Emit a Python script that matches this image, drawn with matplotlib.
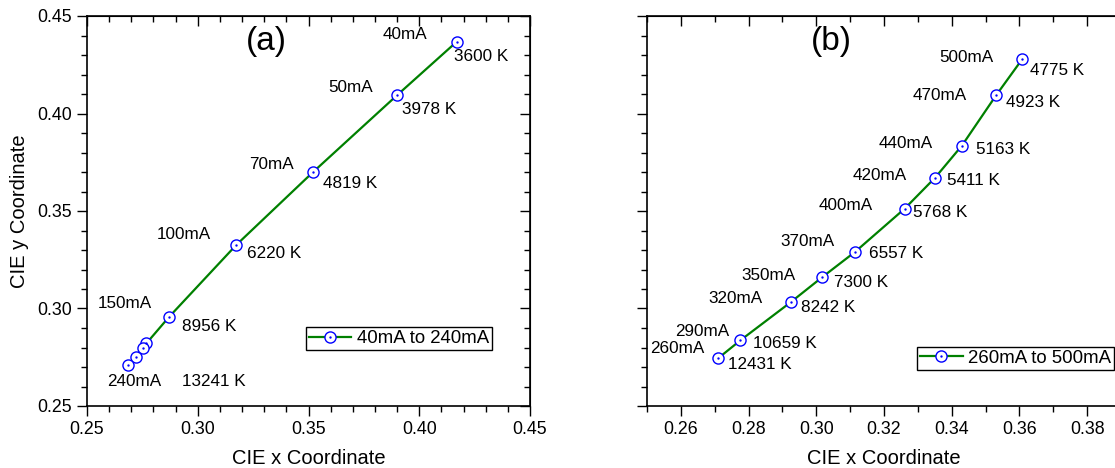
import matplotlib.pyplot as plt
from matplotlib.ticker import MultipleLocator

plt.rcParams['font.family'] = ['Liberation Sans', 'DejaVu Sans']

# Panel (a): 40mA to 240mA
cur_a = ["40mA", "50mA", "70mA", "100mA", "150mA", "", "", "", "240mA"]
cct_a = ["3600 K", "3978 K", "4819 K", "6220 K", "8956 K", "", "", "", "13241 K"]
x_a = [0.4169, 0.3901, 0.3519, 0.3174, 0.2869, 0.2768, 0.2754, 0.2720, 0.2685]
y_a = [0.4368, 0.4095, 0.3698, 0.3326, 0.2955, 0.2821, 0.2797, 0.2753, 0.2709]

# Panel (b): 260mA to 500mA
cur_b = ["260mA", "290mA", "320mA", "350mA", "370mA", "400mA", "420mA", "440mA", "470mA", "500mA"]
cct_b = ["12431 K", "10659 K", "8242 K", "7300 K", "6557 K", "5768 K", "5411 K", "5163 K", "4923 K", "4775 K"]
x_b = [0.2711, 0.2776, 0.2925, 0.3017, 0.3115, 0.3261, 0.3351, 0.3430, 0.3531, 0.3608]
y_b = [0.2746, 0.2837, 0.3033, 0.3160, 0.3291, 0.3512, 0.3671, 0.3835, 0.4093, 0.4278]

# label offsets in pixels (dx, dy)
off_cur_a = [(-29, 7), (-24, 7), (-19, 8), (-25, 10), (-17, 14), None, None, None, (33, -16)]
off_cct_a = [(-3, -15), (5, -15), (10, -11), (11, -9), (13, -9), None, None, None, (54, -16)]
off_cur_b = [(-14, 10), (-11, 9), (-28, 4), (-27, 2), (-21, 10), (-32, 3), (-28, 2), (-29, 2), (-29, 0), (-29, 2)]
off_cct_b = [(10, -6), (13, -3), (10, -5), (12, -5), (14, -2), (8, -4), (12, -3), (14, -4), (10, -7), (8, -11)]

fig = plt.figure(figsize=(11.15, 4.68), dpi=100)
ax1 = fig.add_axes([87 / 1115, 62 / 468, 443 / 1115, 390 / 468])
ax2 = fig.add_axes([647 / 1115, 62 / 468, 474 / 1115, 390 / 468])


def draw(ax, xs, ys, curs, ccts, off_c, off_k):
    line, = ax.plot(xs, ys, color="#008000", lw=1.6, marker="o", ms=8,
                    mfc="white", mec="blue", mew=1.0, zorder=3)
    dots, = ax.plot(xs, ys, ls="none", marker="o", ms=0.7, color="blue", zorder=4)
    for i in range(len(xs)):
        if off_c[i] is not None:
            ax.annotate(curs[i], (xs[i], ys[i]), xytext=off_c[i], textcoords="offset pixels",
                        ha="right", va="center", fontsize=12.3)
        if off_k[i] is not None:
            ax.annotate(ccts[i], (xs[i], ys[i]), xytext=off_k[i], textcoords="offset pixels",
                        ha="left", va="center", fontsize=12.3)
    return (line, dots)


h1 = draw(ax1, x_a, y_a, cur_a, cct_a, off_cur_a, off_cct_a)
h2 = draw(ax2, x_b, y_b, cur_b, cct_b, off_cur_b, off_cct_b)

ax1.set_xlim(0.25, 0.45)
ax1.set_ylim(0.25, 0.45)
ax2.set_xlim(0.25, 0.39)
ax2.set_ylim(0.25, 0.45)

ax1.xaxis.set_major_locator(MultipleLocator(0.05))
ax1.xaxis.set_minor_locator(MultipleLocator(0.01))
ax2.xaxis.set_major_locator(MultipleLocator(0.02))
ax2.xaxis.set_minor_locator(MultipleLocator(0.01))

for ax in (ax1, ax2):
    ax.yaxis.set_major_locator(MultipleLocator(0.05))
    ax.yaxis.set_minor_locator(MultipleLocator(0.01))
    ax.tick_params(which="both", direction="out", top=False, right=False, width=1.0)
    ax.tick_params(which="major", length=7, labelsize=12.8, pad=4)
    ax.tick_params(which="minor", length=4)
    for s in ax.spines.values():
        s.set_linewidth(1.2)
    ax.set_xlabel("CIE x Coordinate", fontsize=14.5, labelpad=8)
    ax.xaxis.set_major_formatter(plt.FormatStrFormatter("%.2f"))
    # inward ticks on the top axis
    sec_top = ax.secondary_xaxis("top")
    sec_top.xaxis.set_major_locator(ax.xaxis.get_major_locator())
    sec_top.xaxis.set_minor_locator(ax.xaxis.get_minor_locator())
    sec_top.tick_params(which="both", direction="in", labeltop=False, width=1.0)
    sec_top.tick_params(which="major", length=7)
    sec_top.tick_params(which="minor", length=4)

# inward ticks on the right side of panel (a)
sec_r = ax1.secondary_yaxis("right")
sec_r.yaxis.set_major_locator(MultipleLocator(0.05))
sec_r.yaxis.set_minor_locator(MultipleLocator(0.01))
sec_r.tick_params(which="both", direction="in", labelright=False, width=1.0)
sec_r.tick_params(which="major", length=7)
sec_r.tick_params(which="minor", length=4)

ax1.yaxis.set_major_formatter(plt.FormatStrFormatter("%.2f"))
ax2.tick_params(axis="y", labelleft=False)

ax1.set_ylabel("CIE y Coordinate", fontsize=14.5, labelpad=6)

ax1.text(0.404, 0.935, "(a)", transform=ax1.transAxes, fontsize=24, ha="center", va="center")
ax2.text(0.390, 0.935, "(b)", transform=ax2.transAxes, fontsize=24, ha="center", va="center")

leg_kw = dict(fontsize=13.4, frameon=True, fancybox=False, framealpha=1, edgecolor="black",
              borderpad=0.15, handlelength=2.3, handletextpad=0.3, borderaxespad=0)
l1 = ax1.legend([h1], ["40mA to 240mA"], loc="center right", bbox_to_anchor=(0.914, 0.173), **leg_kw)
l2 = ax2.legend([h2], ["260mA to 500mA"], loc="center right", bbox_to_anchor=(0.985, 0.122), **leg_kw)
for lg in (l1, l2):
    lg.get_frame().set_linewidth(1.0)

plt.savefig("out.png", dpi=100)
plt.close(fig)
